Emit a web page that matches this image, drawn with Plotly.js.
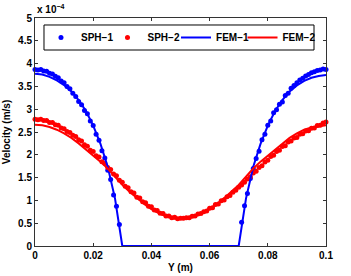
<!DOCTYPE html>
<html>
<head>
<meta charset="utf-8">
<script src="https://cdn.plot.ly/plotly-3.0.1.min.js"></script>
<style>html,body{margin:0;padding:0;background:#fff;}#chart{width:351px;height:276px;}</style>
</head>
<body>
<div id="chart"></div>
<script>
// Velocity in units of 1e-4 m/s
// SPH-1 (blue dots), left wall region and right wall region
var sph1LeftY = [0,0.001,0.002,0.003,0.004,0.005,0.006,0.007,0.008,0.009,0.010,0.011,0.012,0.013,0.014,0.015,0.016,0.017,0.018,0.019,0.020,0.021,0.022,0.023,0.024,0.025,0.026,0.027,0.028,0.029];
var sph1LeftV = [3.87,3.86,3.87,3.84,3.83,3.79,3.77,3.72,3.69,3.62,3.58,3.50,3.45,3.35,3.28,3.17,3.10,2.97,2.90,2.74,2.64,2.45,2.32,2.09,1.93,1.66,1.46,1.12,0.87,0.47];
var sph1RightY = [0.071,0.072,0.073,0.074,0.075,0.076,0.077,0.078,0.079,0.080,0.081,0.082,0.083,0.084,0.085,0.086,0.087,0.088,0.089,0.090,0.091,0.092,0.093,0.094,0.095,0.096,0.097,0.098,0.099,0.100];
var sph1RightV = [0.52,0.88,1.15,1.48,1.70,1.92,2.08,2.33,2.45,2.65,2.74,2.92,2.99,3.11,3.16,3.30,3.35,3.46,3.52,3.58,3.64,3.68,3.73,3.76,3.80,3.82,3.85,3.86,3.88,3.87];

// SPH-2 (red dots)
var sph2Y = [0,0.001,0.002,0.003,0.004,0.005,0.006,0.007,0.008,0.009,0.010,0.011,0.012,0.013,0.014,0.015,0.016,0.017,0.018,0.019,0.020,0.021,0.022,0.023,0.024,0.025,0.026,0.027,0.028,0.029,0.030,0.031,0.032,0.033,0.034,0.035,0.036,0.037,0.038,0.039,0.040,0.041,0.042,0.043,0.044,0.045,0.046,0.047,0.048,0.049,0.050,0.051,0.052,0.053,0.054,0.055,0.056,0.057,0.058,0.059,0.060,0.061,0.062,0.063,0.064,0.065,0.066,0.067,0.068,0.069,0.070,0.071,0.072,0.073,0.074,0.075,0.076,0.077,0.078,0.079,0.080,0.081,0.082,0.083,0.084,0.085,0.086,0.087,0.088,0.089,0.090,0.091,0.092,0.093,0.094,0.095,0.096,0.097,0.098,0.099,0.100];
var sph2V = [2.78,2.77,2.78,2.75,2.75,2.71,2.71,2.66,2.65,2.59,2.57,2.51,2.49,2.43,2.40,2.33,2.30,2.22,2.19,2.10,2.07,1.98,1.95,1.85,1.81,1.72,1.68,1.58,1.54,1.44,1.40,1.31,1.28,1.19,1.16,1.07,1.05,0.97,0.95,0.87,0.86,0.79,0.78,0.72,0.71,0.66,0.66,0.62,0.63,0.60,0.61,0.61,0.62,0.62,0.65,0.66,0.70,0.71,0.75,0.77,0.83,0.84,0.91,0.92,0.99,1.01,1.08,1.11,1.18,1.22,1.29,1.34,1.40,1.47,1.52,1.60,1.64,1.72,1.76,1.84,1.88,1.96,1.99,2.07,2.10,2.18,2.20,2.28,2.30,2.37,2.38,2.45,2.46,2.52,2.53,2.58,2.59,2.64,2.65,2.70,2.72];

// FEM-1 (blue line)
var fem1Y = [0,0.0025,0.005,0.0075,0.01,0.0125,0.015,0.0175,0.02,0.0225,0.025,0.0275,0.03,0.05,0.07,0.0725,0.075,0.0775,0.08,0.0825,0.085,0.0875,0.09,0.0925,0.095,0.0975,0.1];
var fem1V = [3.78,3.76,3.71,3.63,3.53,3.39,3.20,2.96,2.64,2.24,1.74,1.04,0,0,0,1.04,1.74,2.24,2.64,2.96,3.20,3.39,3.52,3.62,3.69,3.73,3.75];

// FEM-2 (red line)
var fem2Y = [0,0.0025,0.005,0.0075,0.01,0.0125,0.015,0.0175,0.02,0.0225,0.025,0.0275,0.03,0.0325,0.035,0.0375,0.04,0.0425,0.045,0.0475,0.05,0.0525,0.055,0.0575,0.06,0.0625,0.065,0.0675,0.07,0.0725,0.075,0.0775,0.08,0.0825,0.085,0.0875,0.09,0.0925,0.095,0.0975,0.1];
var fem2V = [2.66,2.65,2.61,2.55,2.47,2.37,2.25,2.12,1.98,1.85,1.70,1.52,1.34,1.19,1.05,0.92,0.81,0.72,0.65,0.61,0.59,0.61,0.65,0.72,0.81,0.92,1.05,1.19,1.34,1.52,1.70,1.85,1.98,2.12,2.25,2.37,2.47,2.55,2.60,2.63,2.65];

var xTicks = [0,0.02,0.04,0.06,0.08,0.1];
var xTickText = ['0','0.02','0.04','0.06','0.08','0.1'];
var yTicks = [0,0.5,1,1.5,2,2.5,3,3.5,4,4.5,5];
var yTickText = ['0','0.5','1','1.5','2','2.5','3','3.5','4','4.5','5'];

var BLUE = '#0000ff', RED = '#ff0000';
var FONT = 'Liberation Sans, Arial, sans-serif';

var traces = [
  {x: sph1LeftY.concat([null]).concat(sph1RightY), y: sph1LeftV.concat([null]).concat(sph1RightV), name: 'SPH\u22121', mode: 'markers', type: 'scatter',
   marker: {color: BLUE, size: 5}, cliponaxis: false, legend: 'legend'},
  {x: sph2Y, y: sph2V, name: 'SPH\u22122', mode: 'markers', type: 'scatter',
   marker: {color: RED, size: 5}, cliponaxis: false, legend: 'legend2'},
  {x: fem1Y, y: fem1V, name: 'FEM\u22121', mode: 'lines', type: 'scatter',
   line: {color: BLUE, width: 2}, legend: 'legend3'},
  {x: fem2Y, y: fem2V, name: 'FEM\u22122', mode: 'lines', type: 'scatter',
   line: {color: RED, width: 2}, legend: 'legend4'}
];

var axisCommon = {
  showline: true, linecolor: '#333', linewidth: 1, mirror: 'ticks',
  ticks: 'inside', ticklen: 3, tickcolor: '#333', showgrid: false, zeroline: false,
  tickfont: {family: FONT, size: 10, color: '#000', weight: 'bold'}
};

function legendAt(xp) {
  return {
    orientation: 'h', x: xp, y: 0.9145, xanchor: 'left', yanchor: 'middle',
    bgcolor: 'rgba(0,0,0,0)', borderwidth: 0,
    font: {family: FONT, size: 10, color: '#000', weight: 'bold'},
    itemwidth: 30
  };
}

var layout = {
  width: 351, height: 276,
  margin: {l: 35, r: 25, t: 18, b: 30},
  paper_bgcolor: '#fff', plot_bgcolor: '#fff',
  font: {family: FONT, size: 10, color: '#000'},
  showlegend: true,
  xaxis: Object.assign({}, axisCommon, {
    range: [0, 0.1], tickvals: xTicks, ticktext: xTickText,
    title: {text: '<b>Y (m)</b>', font: {family: FONT, size: 10}, standoff: 3}
  }),
  yaxis: Object.assign({}, axisCommon, {
    range: [0, 5], tickvals: yTicks, ticktext: yTickText,
    title: {text: '<b>Velocity (m/s)</b>', font: {family: FONT, size: 10}, standoff: 5}
  }),
  legend: legendAt(0.0206),
  legend2: legendAt(0.2491),
  legend3: legendAt(0.4846),
  legend4: legendAt(0.7131),
  shapes: [
    {type: 'rect', xref: 'paper', yref: 'paper', x0: 0.0309, x1: 0.9588, y0: 0.8596, y1: 0.9693,
     fillcolor: '#fff', line: {color: '#000', width: 1}, layer: 'above'}
  ],
  annotations: [
    {xref: 'paper', yref: 'paper', x: 0, y: 1, xanchor: 'left', yanchor: 'bottom', xshift: 0, yshift: 1,
     text: '<b>x 10<sup>\u22124</sup></b>', showarrow: false, font: {family: FONT, size: 10, color: '#000'}}
  ]
};

Plotly.newPlot('chart', traces, layout, {displayModeBar: false, staticPlot: true});
</script>
</body>
</html>
